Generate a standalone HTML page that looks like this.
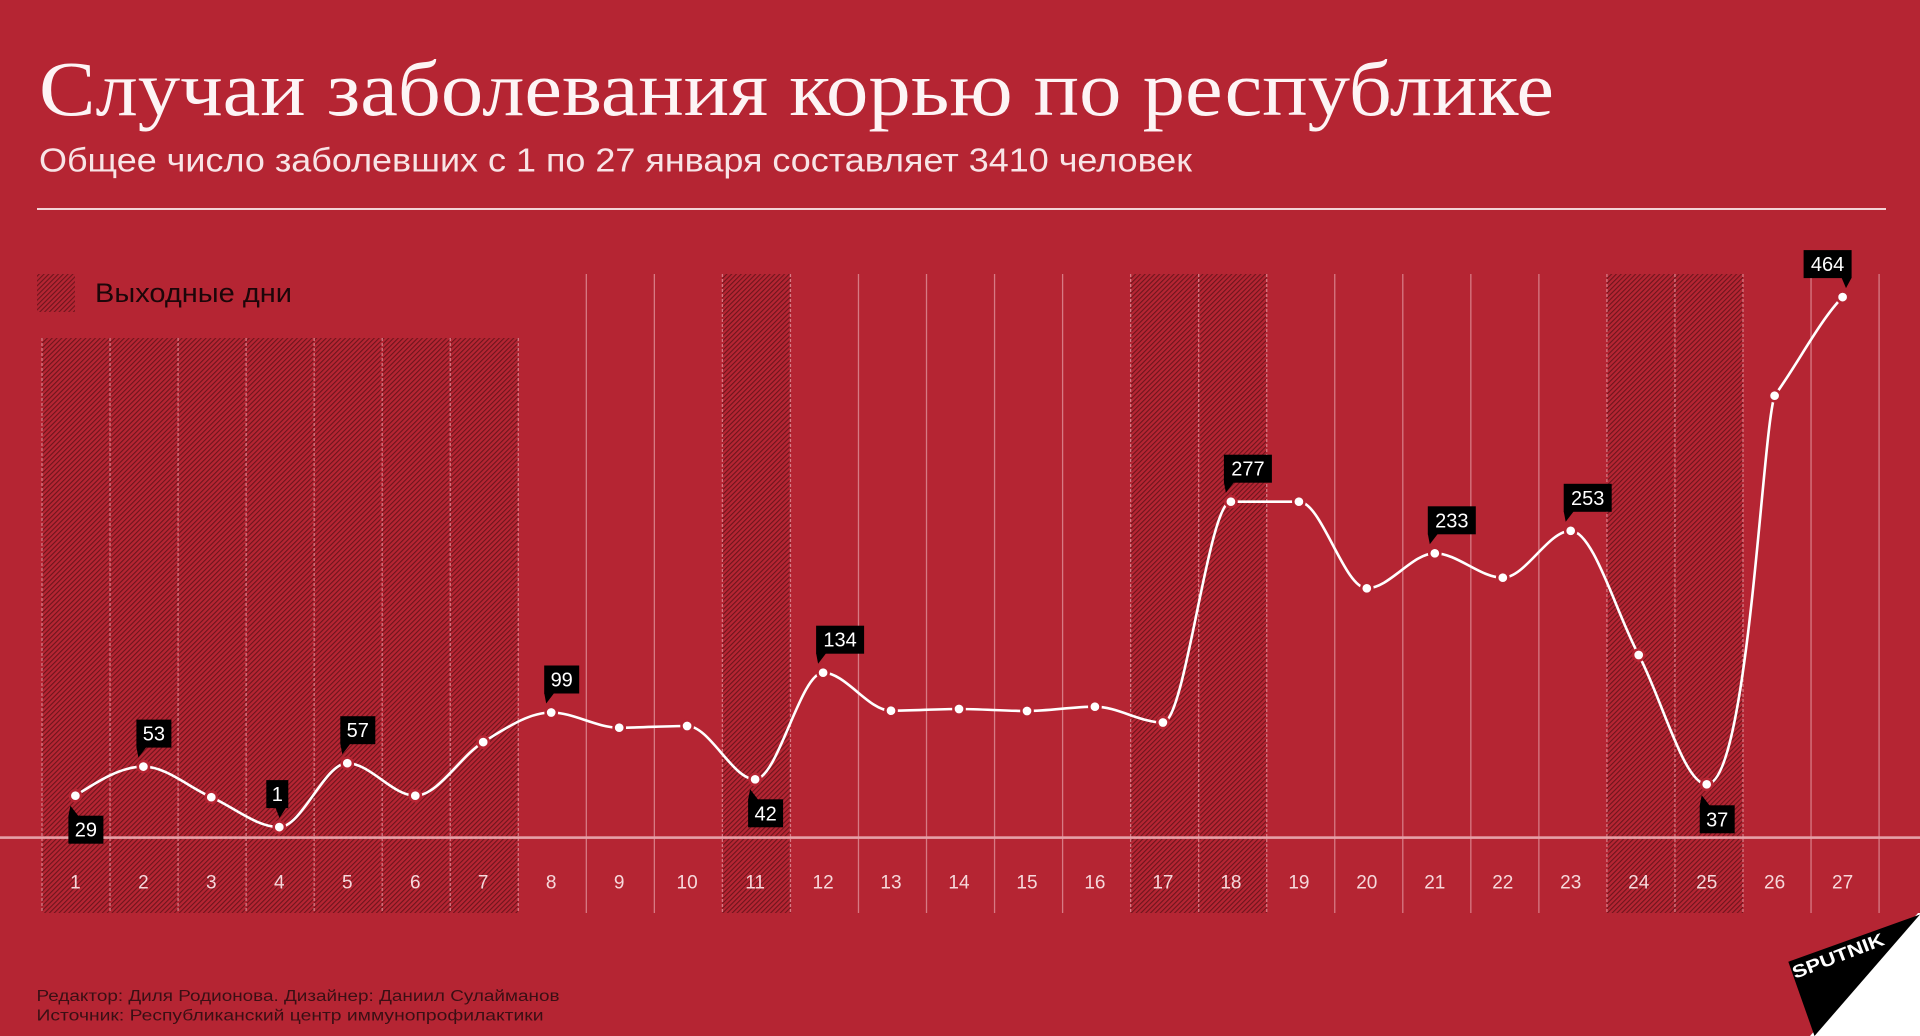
<!DOCTYPE html>
<html>
<head>
<meta charset="utf-8">
<style>
  html,body{margin:0;padding:0;background:#b52533;}
  body{width:1920px;height:1036px;overflow:hidden;}
  svg{display:block;}
</style>
</head>
<body>
<svg width="1920" height="1036" viewBox="0 0 1920 1036" xmlns="http://www.w3.org/2000/svg">
  <defs>
    <pattern id="hatch" patternUnits="userSpaceOnUse" width="3.4" height="3.4" patternTransform="rotate(45)">
      <rect x="0" y="0" width="1.1" height="3.4" fill="#6e141c"/>
    </pattern>
  </defs>
  <rect x="0" y="0" width="1920" height="1036" fill="#b52533"/>

  <!-- Title -->
  <text x="39" y="115" font-family="Liberation Serif, serif" font-size="78" fill="#fdf4f5" textLength="1515" lengthAdjust="spacingAndGlyphs">Случаи заболевания корью по республике</text>
  <text x="39" y="171.5" font-family="Liberation Sans, sans-serif" font-size="33" fill="#f8e4e6" textLength="1153" lengthAdjust="spacingAndGlyphs">Общее число заболевших с 1 по 27 января составляет 3410 человек</text>
  <rect x="37" y="208" width="1849" height="2" fill="#f3d3d6"/>

  <!-- Legend -->
  <rect x="37" y="274" width="38" height="38" fill="url(#hatch)"/>
  <text x="95" y="302" font-family="Liberation Sans, sans-serif" font-size="27" fill="#1c0609" textLength="197" lengthAdjust="spacingAndGlyphs">Выходные дни</text>

  <!-- Hatched weekend columns -->
  <rect x="42" y="338" width="476.28" height="575" fill="url(#hatch)"/>
  <rect x="722.4" y="274" width="68.04" height="639" fill="url(#hatch)"/>
  <rect x="1130.64" y="274" width="136.08" height="639" fill="url(#hatch)"/>
  <rect x="1606.92" y="274" width="136.08" height="639" fill="url(#hatch)"/>

  <!-- Gridlines -->
  <g stroke="#d77a84" stroke-width="1.3">
    <line x1="42" y1="338" x2="42" y2="913" stroke-dasharray="3,2"/>
    <line x1="110.04" y1="338" x2="110.04" y2="913" stroke-dasharray="3,2"/>
    <line x1="178.08" y1="338" x2="178.08" y2="913" stroke-dasharray="3,2"/>
    <line x1="246.12" y1="338" x2="246.12" y2="913" stroke-dasharray="3,2"/>
    <line x1="314.16" y1="338" x2="314.16" y2="913" stroke-dasharray="3,2"/>
    <line x1="382.2" y1="338" x2="382.2" y2="913" stroke-dasharray="3,2"/>
    <line x1="450.24" y1="338" x2="450.24" y2="913" stroke-dasharray="3,2"/>
    <line x1="518.28" y1="338" x2="518.28" y2="913" stroke-dasharray="3,2"/>
    <line x1="586.32" y1="274" x2="586.32" y2="913"/>
    <line x1="654.36" y1="274" x2="654.36" y2="913"/>
    <line x1="722.4" y1="274" x2="722.4" y2="913" stroke-dasharray="3,2"/>
    <line x1="790.44" y1="274" x2="790.44" y2="913" stroke-dasharray="3,2"/>
    <line x1="858.48" y1="274" x2="858.48" y2="913"/>
    <line x1="926.52" y1="274" x2="926.52" y2="913"/>
    <line x1="994.56" y1="274" x2="994.56" y2="913"/>
    <line x1="1062.6" y1="274" x2="1062.6" y2="913"/>
    <line x1="1130.64" y1="274" x2="1130.64" y2="913" stroke-dasharray="3,2"/>
    <line x1="1198.68" y1="274" x2="1198.68" y2="913" stroke-dasharray="3,2"/>
    <line x1="1266.72" y1="274" x2="1266.72" y2="913" stroke-dasharray="3,2"/>
    <line x1="1334.76" y1="274" x2="1334.76" y2="913"/>
    <line x1="1402.8" y1="274" x2="1402.8" y2="913"/>
    <line x1="1470.84" y1="274" x2="1470.84" y2="913"/>
    <line x1="1538.88" y1="274" x2="1538.88" y2="913"/>
    <line x1="1606.92" y1="274" x2="1606.92" y2="913" stroke-dasharray="3,2"/>
    <line x1="1674.96" y1="274" x2="1674.96" y2="913" stroke-dasharray="3,2"/>
    <line x1="1743" y1="274" x2="1743" y2="913" stroke-dasharray="3,2"/>
    <line x1="1811.04" y1="274" x2="1811.04" y2="913"/>
    <line x1="1879.08" y1="274" x2="1879.08" y2="913"/>
  </g>

  <!-- Baseline -->
  <rect x="0" y="836.3" width="1920" height="2.6" fill="#e6a0a7"/>

  <!-- Tick labels -->
  <g font-family="Liberation Sans, sans-serif" font-size="19" fill="#f6d8db" text-anchor="middle">
    <text x="75.4" y="888.5">1</text>
    <text x="143.4" y="888.5">2</text>
    <text x="211.3" y="888.5">3</text>
    <text x="279.3" y="888.5">4</text>
    <text x="347.3" y="888.5">5</text>
    <text x="415.3" y="888.5">6</text>
    <text x="483.2" y="888.5">7</text>
    <text x="551.2" y="888.5">8</text>
    <text x="619.2" y="888.5">9</text>
    <text x="687.1" y="888.5">10</text>
    <text x="755.1" y="888.5">11</text>
    <text x="823.1" y="888.5">12</text>
    <text x="891" y="888.5">13</text>
    <text x="959" y="888.5">14</text>
    <text x="1027" y="888.5">15</text>
    <text x="1094.9" y="888.5">16</text>
    <text x="1162.9" y="888.5">17</text>
    <text x="1230.9" y="888.5">18</text>
    <text x="1298.9" y="888.5">19</text>
    <text x="1366.8" y="888.5">20</text>
    <text x="1434.8" y="888.5">21</text>
    <text x="1502.8" y="888.5">22</text>
    <text x="1570.7" y="888.5">23</text>
    <text x="1638.7" y="888.5">24</text>
    <text x="1706.7" y="888.5">25</text>
    <text x="1774.6" y="888.5">26</text>
    <text x="1842.6" y="888.5">27</text>
  </g>

  <!-- Curve -->
  <path fill="none" stroke="#ffffff" stroke-width="2.6" stroke-linecap="round" d="M75.4,795.7 C98.06,781.15 120.74,766.6 143.4,766.6 C166.06,766.6 188.64,787.12 211.3,797.2 C233.96,807.28 256.64,827.1 279.3,827.1 C301.96,827.1 324.64,763.2 347.3,763.2 C369.96,763.2 392.64,795.7 415.3,795.7 C437.96,795.7 460.54,755.97 483.2,742.1 C505.86,728.23 528.54,712.5 551.2,712.5 C573.86,712.5 596.54,727.7 619.2,727.7 C641.86,727.7 664.44,726 687.1,726 C709.76,726 732.44,779.3 755.1,779.3 C777.76,779.3 800.44,672.7 823.1,672.7 C845.76,672.7 868.34,710.7 891,710.7 C913.66,710.7 936.34,709 959,709 C981.66,709 1004.34,711 1027,711 C1049.66,711 1072.24,706.7 1094.9,706.7 C1117.56,706.7 1140.24,722.5 1162.9,722.5 C1185.56,722.5 1208.24,501.7 1230.9,501.7 C1253.56,501.7 1276.24,501.7 1298.9,501.7 C1321.56,501.7 1344.14,588.3 1366.8,588.3 C1389.46,588.3 1412.14,553.3 1434.8,553.3 C1457.46,553.3 1480.14,577.7 1502.8,577.7 C1525.46,577.7 1548.04,530.8 1570.7,530.8 C1593.36,530.8 1616.04,612.75 1638.7,655 C1661.36,697.25 1684.04,784.3 1706.7,784.3 C1748,784.3 1762,433 1774.6,395.7 C1797,365 1820,320 1842.6,297.1"/>

  <!-- Dots -->
  <g fill="#ffffff" stroke="#b52533" stroke-width="2.5">
    <circle cx="75.4" cy="795.7" r="5.6"/>
    <circle cx="143.4" cy="766.6" r="5.6"/>
    <circle cx="211.3" cy="797.2" r="5.6"/>
    <circle cx="279.3" cy="827.1" r="5.6"/>
    <circle cx="347.3" cy="763.2" r="5.6"/>
    <circle cx="415.3" cy="795.7" r="5.6"/>
    <circle cx="483.2" cy="742.1" r="5.6"/>
    <circle cx="551.2" cy="712.5" r="5.6"/>
    <circle cx="619.2" cy="727.7" r="5.6"/>
    <circle cx="687.1" cy="726" r="5.6"/>
    <circle cx="755.1" cy="779.3" r="5.6"/>
    <circle cx="823.1" cy="672.7" r="5.6"/>
    <circle cx="891" cy="710.7" r="5.6"/>
    <circle cx="959" cy="709" r="5.6"/>
    <circle cx="1027" cy="711" r="5.6"/>
    <circle cx="1094.9" cy="706.7" r="5.6"/>
    <circle cx="1162.9" cy="722.5" r="5.6"/>
    <circle cx="1230.9" cy="501.7" r="5.6"/>
    <circle cx="1298.9" cy="501.7" r="5.6"/>
    <circle cx="1366.8" cy="588.3" r="5.6"/>
    <circle cx="1434.8" cy="553.3" r="5.6"/>
    <circle cx="1502.8" cy="577.7" r="5.6"/>
    <circle cx="1570.7" cy="530.8" r="5.6"/>
    <circle cx="1638.7" cy="655" r="5.6"/>
    <circle cx="1706.7" cy="784.3" r="5.6"/>
    <circle cx="1774.6" cy="395.7" r="5.6"/>
    <circle cx="1842.6" cy="297.1" r="5.6"/>
  </g>

  <!-- Data labels -->
  <g fill="#000000">
    <rect x="68.4" y="815.7" width="35" height="28"/>
    <polygon points="68.4,816 78.4,816 70.4,805.7"/>
    <rect x="136.4" y="719.6" width="35" height="28"/>
    <polygon points="136.4,747 146.4,747 138.4,757.6"/>
    <rect x="266.3" y="780.1" width="22" height="28"/>
    <polygon points="275.5,807.8 286,807.8 279.5,818"/>
    <rect x="340.3" y="716.2" width="35" height="28"/>
    <polygon points="340.3,743.8 350.3,743.8 342.3,754.2"/>
    <rect x="544.2" y="665.5" width="35" height="28"/>
    <polygon points="544.2,693 554.2,693 546.2,703.5"/>
    <rect x="748.1" y="799.3" width="35" height="28"/>
    <polygon points="748.1,799.6 758.1,799.6 750.1,789.3"/>
    <rect x="816.1" y="625.7" width="48" height="28"/>
    <polygon points="816.1,653.3 826.1,653.3 818.1,663.7"/>
    <rect x="1223.9" y="454.7" width="48" height="28"/>
    <polygon points="1223.9,482.3 1233.9,482.3 1225.9,492.7"/>
    <rect x="1427.8" y="506.3" width="48" height="28"/>
    <polygon points="1427.8,533.9 1437.8,533.9 1429.8,544.3"/>
    <rect x="1563.7" y="483.8" width="48" height="28"/>
    <polygon points="1563.7,511.4 1573.7,511.4 1565.7,521.8"/>
    <rect x="1699.7" y="805.3" width="35" height="28"/>
    <polygon points="1699.7,805.6 1709.7,805.6 1701.7,795.3"/>
    <rect x="1803.6" y="250.1" width="48" height="28"/>
    <polygon points="1841.6,277.7 1851.6,277.7 1846,288.1"/>
  </g>
  <g font-family="Liberation Sans, sans-serif" font-size="20" fill="#ffffff" text-anchor="middle">
    <text x="85.9" y="836.7">29</text>
    <text x="153.9" y="740.6">53</text>
    <text x="277.3" y="801.1">1</text>
    <text x="357.8" y="737.2">57</text>
    <text x="561.7" y="686.5">99</text>
    <text x="765.6" y="820.3">42</text>
    <text x="840.1" y="646.7">134</text>
    <text x="1247.9" y="475.7">277</text>
    <text x="1451.8" y="527.3">233</text>
    <text x="1587.7" y="504.8">253</text>
    <text x="1717.2" y="826.3">37</text>
    <text x="1827.6" y="271.1">464</text>
  </g>

  <!-- Footer -->
  <g font-family="Liberation Sans, sans-serif" font-size="15.5" fill="#3a0f14">
    <text x="36.5" y="1001" textLength="523" lengthAdjust="spacingAndGlyphs">Редактор: Диля Родионова. Дизайнер: Даниил Сулайманов</text>
    <text x="36.5" y="1020.5" textLength="507" lengthAdjust="spacingAndGlyphs">Источник: Республиканский центр иммунопрофилактики</text>
  </g>

  <!-- Sputnik logo -->
  <polygon points="1918,913 1920,913 1920,1036 1810,1036" fill="#ffffff"/>
  <polygon points="1788.3,961.7 1920,914.5 1814.5,1036" fill="#000000"/>
  <text x="0" y="0" transform="translate(1795,979) rotate(-21)" font-family="Liberation Sans, sans-serif" font-weight="bold" font-size="18" fill="#ffffff" textLength="97" lengthAdjust="spacingAndGlyphs">SPUTNIK</text>
</svg>
</body>
</html>
